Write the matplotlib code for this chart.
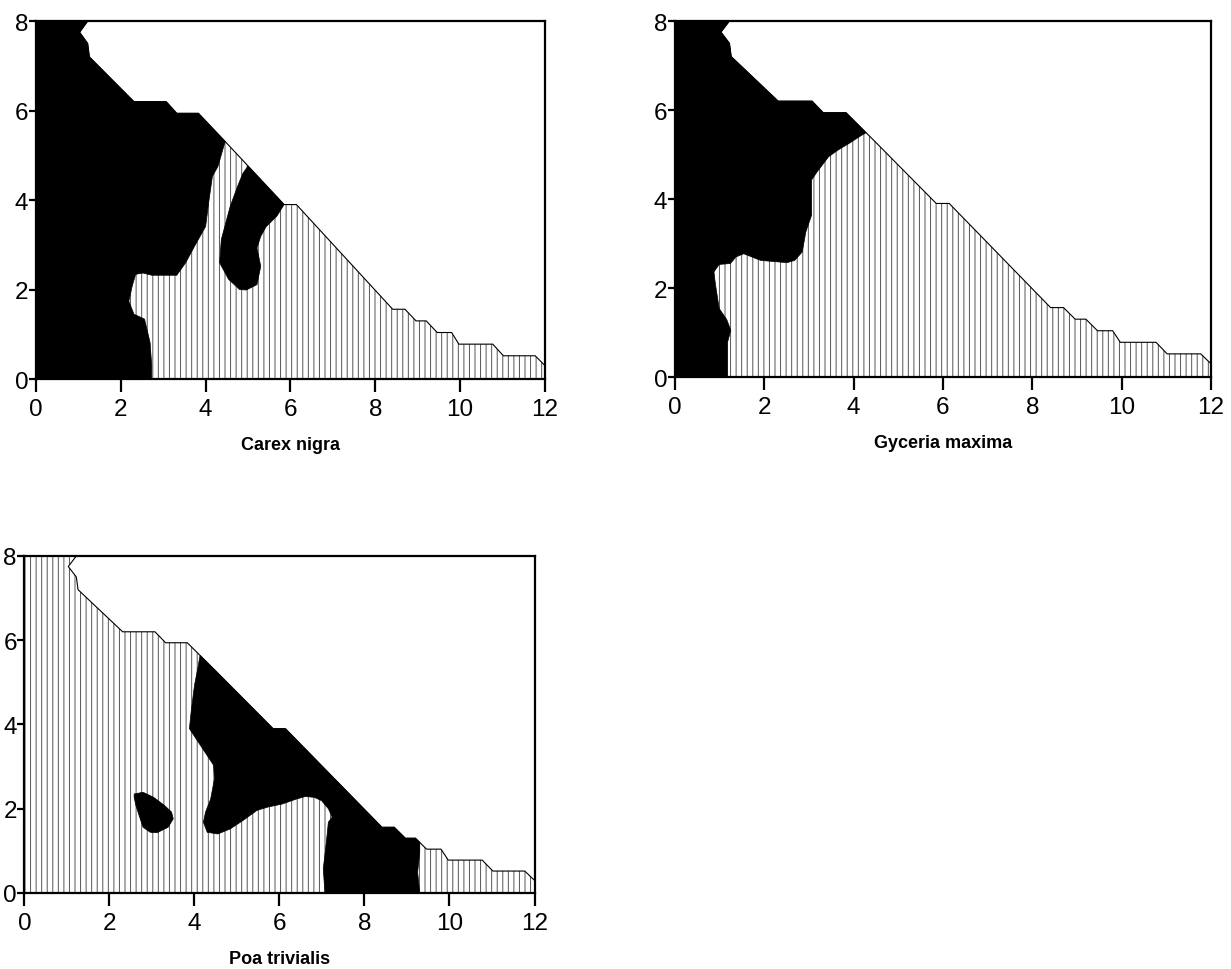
import matplotlib.pyplot as plt
from matplotlib.patches import Polygon

plt.rcParams['font.family'] = ['Liberation Sans', 'DejaVu Sans']
plt.rcParams['hatch.linewidth'] = 0.7

# staircase edge of the sampled area (same for all three species)
edge_x = [1.22, 1.03, 1.22, 1.26, 2.31, 3.07, 3.32, 3.83, 4.46, 5.85, 6.14, 8.41,
          8.70, 8.96, 9.20, 9.46, 9.80, 9.97, 10.77, 11.02, 11.77, 12.0]
edge_y = [8.0, 7.75, 7.5, 7.2, 6.2, 6.2, 5.94, 5.94, 5.31, 3.9, 3.9, 1.56,
          1.56, 1.3, 1.3, 1.04, 1.04, 0.78, 0.78, 0.52, 0.52, 0.3]
edge = list(zip(edge_x, edge_y))

# Carex nigra
carex_black = [(0, 0), (0, 8)] + edge[:9] + [
    (4.29, 4.75), (4.16, 4.53), (4.08, 4.0), (4.0, 3.41), (3.74, 2.97), (3.53, 2.6),
    (3.32, 2.32), (2.73, 2.32), (2.52, 2.37), (2.35, 2.34), (2.27, 2.08), (2.19, 1.74),
    (2.31, 1.45), (2.56, 1.34), (2.69, 0.82), (2.73, 0.3), (2.73, 0)]
carex_island = [(5.0, 4.76), (5.85, 3.9), (5.68, 3.64), (5.43, 3.41), (5.3, 3.19),
                (5.21, 2.93), (5.3, 2.52), (5.21, 2.11), (4.96, 1.99), (4.8, 2.0),
                (4.54, 2.23), (4.33, 2.6), (4.37, 3.12), (4.58, 3.86), (4.75, 4.3),
                (4.88, 4.6)]

# Gyceria maxima
glyc_black = [(0, 0), (0, 8)] + edge[:8] + [
    (4.28, 5.49), (4.16, 5.42), (3.9, 5.25), (3.65, 5.1), (3.44, 4.95), (3.19, 4.62),
    (3.06, 4.43), (3.06, 4.0), (3.06, 3.64), (2.93, 3.26), (2.85, 2.81), (2.68, 2.62),
    (2.51, 2.57), (1.92, 2.62), (1.54, 2.77), (1.37, 2.7), (1.24, 2.55), (0.99, 2.53),
    (0.87, 2.36), (0.91, 2.06), (0.99, 1.54), (1.16, 1.29), (1.25, 1.05), (1.18, 0.79),
    (1.18, 0)]

# Poa trivialis
poa_black = [(4.13, 5.64)] + edge[8:15] + [
    (9.3, 1.2), (9.3, 0.97), (9.25, 0.49), (9.3, 0), (7.07, 0), (7.03, 0.57),
    (7.11, 1.28), (7.15, 1.68), (7.24, 1.8), (7.15, 2.0), (6.99, 2.19), (6.82, 2.27),
    (6.61, 2.29), (6.4, 2.23), (6.06, 2.11), (5.73, 2.04), (5.47, 1.96), (5.14, 1.72),
    (4.84, 1.52), (4.55, 1.4), (4.3, 1.44), (4.21, 1.68), (4.26, 1.92), (4.38, 2.23),
    (4.47, 2.71), (4.45, 3.03), (4.3, 3.26), (4.09, 3.58), (3.88, 3.9), (3.92, 4.29),
    (4.0, 4.93), (4.09, 5.4)]
poa_island = [(2.58, 2.35), (2.79, 2.39), (3.04, 2.27), (3.29, 2.08), (3.46, 1.92),
              (3.5, 1.76), (3.38, 1.56), (3.12, 1.43), (2.96, 1.44), (2.79, 1.56),
              (2.71, 1.8), (2.62, 2.08), (2.58, 2.27)]

panels = [
    ('Carex nigra', [carex_black, carex_island], [0.0292, 0.6082, 0.4135, 0.369]),
    ('Gyceria maxima', [glyc_black], [0.5483, 0.6103, 0.4354, 0.367]),
    ('Poa trivialis', [poa_black, poa_island], [0.0199, 0.0784, 0.4143, 0.3474]),
]

fig = plt.figure(figsize=(12.31, 9.70), dpi=100)

for name, blacks, pos in panels:
    ax = fig.add_axes(pos)
    domain = [(0, 0), (0, 8)] + edge + [(12, 0)]
    ax.add_patch(Polygon(domain, closed=True, facecolor='white', edgecolor='#555555',
                         linewidth=0, hatch='|||'))
    ax.plot(edge_x, edge_y, color='black', lw=0.8)
    for poly in blacks:
        ax.add_patch(Polygon(poly, closed=True, facecolor='black', edgecolor='black', lw=0.5))
    ax.set_xlim(0, 12)
    ax.set_ylim(0, 8)
    ax.set_xticks([0, 2, 4, 6, 8, 10, 12])
    ax.set_yticks([0, 2, 4, 6, 8])
    for s in ax.spines.values():
        s.set_linewidth(1.6)
    ax.tick_params(axis='x', length=9, width=1.6, pad=5, labelsize=17.5)
    ax.tick_params(axis='y', length=5, width=1.6, pad=0.5, labelsize=17.5)
    ax.set_xlabel(name, fontsize=13, fontweight='bold', labelpad=11)

fig.savefig('out.png', dpi=100)
